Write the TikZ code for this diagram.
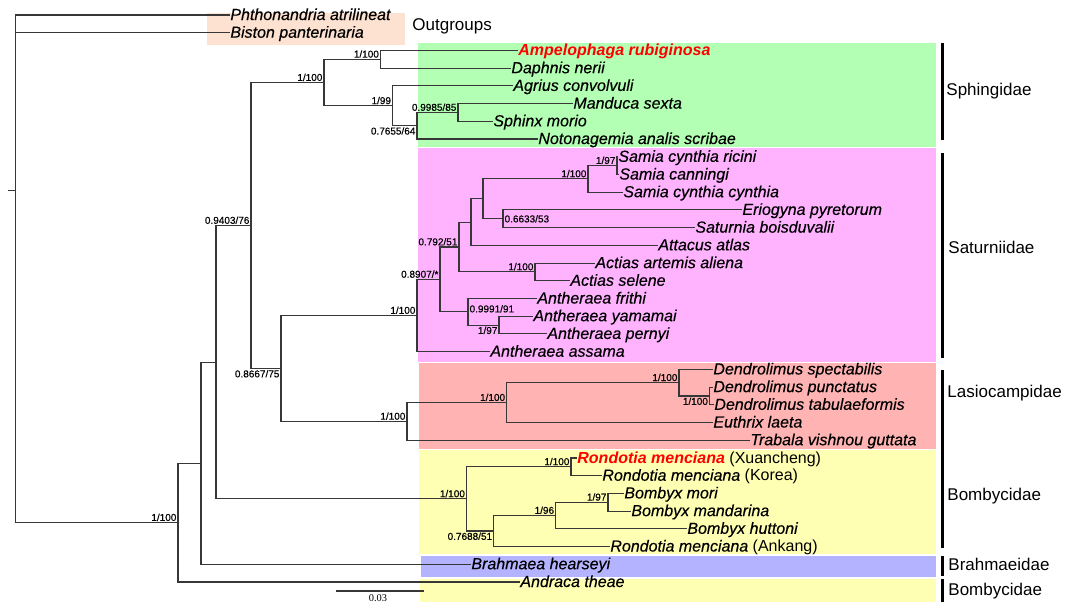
\documentclass[tikz,border=0pt]{standalone}
\usepackage{fontspec}
\setmainfont{Liberation Sans}[ItalicFeatures={FakeBold=0.35}]
\newfontfamily\suppfont{Liberation Sans}[FakeBold=0.5]
\newfontfamily\barfont{Liberation Serif}
\usetikzlibrary{positioning}

\definecolor{outgrp}{RGB}{253,226,210}
\definecolor{sphcol}{RGB}{179,255,179}
\definecolor{satcol}{RGB}{255,179,255}
\definecolor{lascol}{RGB}{255,179,179}
\definecolor{bomcol}{RGB}{255,255,179}
\definecolor{brhcol}{RGB}{179,179,255}
\definecolor{treeln}{RGB}{55,55,55}

\begin{document}
\begin{tikzpicture}[x=0.5pt,y=-0.5pt,
  tip/.style={anchor=west,inner sep=0pt,text height=6pt,text depth=1pt,font=\fontsize{8}{9}\selectfont\itshape},
  supp/.style={inner sep=0.6pt,font=\suppfont\fontsize{5}{6}\selectfont},
  fam/.style={anchor=west,inner sep=0pt,font=\fontsize{8.5}{10}\selectfont},
  br/.style={draw=treeln,line width=0.55pt},
  famline/.style={line width=1.3pt}]
\useasboundingbox (0,0) rectangle (1074,602);

% coloured boxes
\fill[outgrp] (207,12.5) rectangle (405,44.5);
\fill[sphcol] (418,43) rectangle (936,146.5);
\fill[satcol] (418,147.5) rectangle (936,362);
\fill[lascol] (419,362.5) rectangle (936,449);
\fill[bomcol] (419,449.5) rectangle (936,554);
\fill[brhcol] (421,556) rectangle (936,577);
\fill[bomcol] (420,579) rectangle (936,602);

% tips
\node[tip] (phth) at (230,15)    {Phthonandria atrilineat};
\node[tip] (bist) at (230,32.7)  {Biston panterinaria};
\node[tip] (ampe) at (518,50.4)  {\bfseries\color{red}Ampelophaga rubiginosa};
\node[tip] (daph) at (511,68.2)  {Daphnis nerii};
\node[tip] (agri) at (513,85.9)  {Agrius convolvuli};
\node[tip] (mand) at (573,103.6) {Manduca sexta};
\node[tip] (sphi) at (493,121.3) {Sphinx morio};
\node[tip] (noto) at (538,139)   {Notonagemia analis scribae};
\node[tip] (sric) at (618,156.8) {Samia cynthia ricini};
\node[tip] (scan) at (619,174.5) {Samia canningi};
\node[tip] (scyn) at (623,192.2) {Samia cynthia cynthia};
\node[tip] (erio) at (742,209.9) {Eriogyna pyretorum};
\node[tip] (satu) at (695,227.6) {Saturnia boisduvalii};
\node[tip] (atta) at (658,245.3) {Attacus atlas};
\node[tip] (aart) at (595,263.1) {Actias artemis aliena};
\node[tip] (asel) at (570,280.8) {Actias selene};
\node[tip] (afri) at (537,298.5) {Antheraea frithi};
\node[tip] (ayam) at (533,316.2) {Antheraea yamamai};
\node[tip] (aper) at (547,333.9) {Antheraea pernyi};
\node[tip] (aass) at (490,351.7) {Antheraea assama};
\node[tip] (dspe) at (713,369.4) {Dendrolimus spectabilis};
\node[tip] (dpun) at (713,387.1) {Dendrolimus punctatus};
\node[tip] (dtab) at (714,404.8) {Dendrolimus tabulaeformis};
\node[tip] (elae) at (713,422.5) {Euthrix laeta};
\node[tip] (tvis) at (750,440.2) {Trabala vishnou guttata};
\node[tip] (rxua) at (577,458)   {{\bfseries\color{red}Rondotia menciana} \upshape(Xuancheng)};
\node[tip] (rkor) at (602,475.7) {Rondotia menciana \upshape(Korea)};
\node[tip] (bmor) at (624,493.4) {Bombyx mori};
\node[tip] (bman) at (631,511.1) {Bombyx mandarina};
\node[tip] (bhut) at (687,528.8) {Bombyx huttoni};
\node[tip] (rank) at (610,546.5) {Rondotia menciana \upshape(Ankang)};
\node[tip] (bhea) at (471,564.2) {Brahmaea hearseyi};
\node[tip] (athe) at (520,582)   {Andraca theae};

% inner nodes
\coordinate (nA)   at (380.5,59.3);
\coordinate (nE)   at (458,112.5);
\coordinate (nD)   at (417,125.7);
\coordinate (nC)   at (392.6,105.8);
\coordinate (nB)   at (324,82.6);
\coordinate (nK)   at (617,165.6);
\coordinate (nI)   at (588,178.9);
\coordinate (nJ)   at (503,218.8);
\coordinate (nH)   at (483,198.8);
\coordinate (nG)   at (471,222.1);
\coordinate (nL)   at (535,271.9);
\coordinate (nF)   at (459,247);
\coordinate (nN)   at (499,325.1);
\coordinate (nM)   at (468,311.8);
\coordinate (nSa)  at (440,279.4);
\coordinate (nSat) at (417,315.5);
\coordinate (nS)   at (709.5,396);
\coordinate (nR)   at (679,382.7);
\coordinate (nQ)   at (506.7,402.6);
\coordinate (nLas) at (407,421.4);
\coordinate (nSL)  at (281,368.5);
\coordinate (nSSL) at (251,225.5);
\coordinate (nT)   at (571,466.8);
\coordinate (nMM)  at (608,502.3);
\coordinate (nBx)  at (555.7,515.5);
\coordinate (nBR)  at (493.7,531);
\coordinate (nBom) at (466.5,498.9);
\coordinate (nX1)  at (216,362.2);
\coordinate (nX2)  at (201,463.2);
\coordinate (nIn)  at (178,522.6);
\coordinate (root) at (15.5,190.1);
\coordinate (rstub) at (8,190.1);

% branches
\draw[br] (rstub) -- (root);
\draw[br] (root) |- (phth.west) (root) |- (bist.west) (root) |- (nIn);
\draw[br] (nIn) |- (nX2) (nIn) |- (athe.west);
\draw[br] (nX2) |- (nX1) (nX2) |- (bhea.west);
\draw[br] (nX1) |- (nSSL) (nX1) |- (nBom);
\draw[br] (nSSL) |- (nB) (nSSL) |- (nSL);
\draw[br] (nB) |- (nA) (nB) |- (nC);
\draw[br] (nA) |- (ampe.west) (nA) |- (daph.west);
\draw[br] (nC) |- (agri.west) (nC) |- (nD);
\draw[br] (nD) |- (nE) (nD) |- (noto.west);
\draw[br] (nE) |- (mand.west) (nE) |- (sphi.west);
\draw[br] (nSL) |- (nSat) (nSL) |- (nLas);
\draw[br] (nSat) |- (nSa) (nSat) |- (aass.west);
\draw[br] (nSa) |- (nF) (nSa) |- (nM);
\draw[br] (nF) |- (nG) (nF) |- (nL);
\draw[br] (nG) |- (nH) (nG) |- (atta.west);
\draw[br] (nH) |- (nI) (nH) |- (nJ);
\draw[br] (nI) |- (nK) (nI) |- (scyn.west);
\draw[br] (nK) |- (sric.west) (nK) |- (scan.west);
\draw[br] (nJ) |- (erio.west) (nJ) |- (satu.west);
\draw[br] (nL) |- (aart.west) (nL) |- (asel.west);
\draw[br] (nM) |- (afri.west) (nM) |- (nN);
\draw[br] (nN) |- (ayam.west) (nN) |- (aper.west);
\draw[br] (nLas) |- (nQ) (nLas) |- (tvis.west);
\draw[br] (nQ) |- (nR) (nQ) |- (elae.west);
\draw[br] (nR) |- (dspe.west) (nR) |- (nS);
\draw[br] (nS) |- (dpun.west) (nS) |- (dtab.west);
\draw[br] (nBom) |- (nT) (nBom) |- (nBR);
\draw[br] (nT) |- (rxua.west) (nT) |- (rkor.west);
\draw[br] (nBR) |- (nBx) (nBR) |- (rank.west);
\draw[br] (nBx) |- (nMM) (nBx) |- (bhut.west);
\draw[br] (nMM) |- (bmor.west) (nMM) |- (bman.west);

% support values
\node[supp,anchor=south east] at (nA)   {1/100};
\node[supp,anchor=south east] at (nB)   {1/100};
\node[supp,anchor=south east] at (nC)   {1/99};
\node[supp,anchor=north east] at (nD)   {0.7655/64};
\node[supp,anchor=south east] at (nE)   {0.9985/85};
\node[supp,anchor=south east] at (nSSL) {0.9403/76};
\node[supp,anchor=north east] at (nSL)  {0.8667/75};
\node[supp,anchor=south east] at (nSat) {1/100};
\node[supp,anchor=south east] at (nSa)  {0.8907/*};
\node[supp,anchor=south east] at (nF)   {0.792/51};
\node[supp,anchor=south east] at (nI)   {1/100};
\node[supp,anchor=south east] at (nK)   {1/97};
\node[supp,anchor=west]       at (nJ)   {0.6633/53};
\node[supp,anchor=south east] at (nL)   {1/100};
\node[supp,anchor=west,yshift=1.5pt] at (nM) {0.9991/91};
\node[supp,anchor=north east] at (nN)   {1/97};
\node[supp,anchor=south east] at (nLas) {1/100};
\node[supp,anchor=south east] at (nQ)   {1/100};
\node[supp,anchor=south east] at (nR)   {1/100};
\node[supp,anchor=north east] at (nS)   {1/100};
\node[supp,anchor=south east] at (nBom) {1/100};
\node[supp,anchor=south east] at (nT)   {1/100};
\node[supp,anchor=south east] at (nMM)  {1/97};
\node[supp,anchor=south east] at (nBx)  {1/96};
\node[supp,anchor=north east] at (nBR)  {0.7688/51};
\node[supp,anchor=south east] at (nIn)  {1/100};

% families
\node[fam] (outg) at (412,26) {Outgroups};
\coordinate (sphT) at (942.5,43);  \coordinate (sphB) at (942.5,140);
\coordinate (satT) at (942.5,153); \coordinate (satB) at (942.5,358);
\coordinate (lbT)  at (942.5,370); \coordinate (lbB)  at (942.5,548);
\coordinate (brhT) at (942.5,556); \coordinate (brhB) at (942.5,576);
\coordinate (bomT) at (942.5,579); \coordinate (bomB) at (942.5,602);
\draw[famline] (sphT) -- (sphB) (satT) -- (satB) (lbT) -- (lbB)
  (brhT) -- (brhB) (bomT) -- (bomB);
\node[fam] (sphL) at (946,90.7)  {Sphingidae};
\node[fam] (satL) at (948,247)   {Saturniidae};
\node[fam] (lasL) at (947,393)   {Lasiocampidae};
\node[fam] (bomL) at (947,495.7) {Bombycidae};
\node[fam] (brhL) at (948,564)   {Brahmaeidae};
\node[fam] (bo2L) at (948,591.5) {Bombycidae};

% scale bar
\coordinate (sbA) at (336,591);
\coordinate (sbB) at (424,591);
\draw[br] (sbA) -- (sbB);
\node[anchor=north,inner sep=0.4pt,font=\barfont\fontsize{5.2}{6}\selectfont] (sbL) at (378,593.5) {0.03};
\end{tikzpicture}
\end{document}
